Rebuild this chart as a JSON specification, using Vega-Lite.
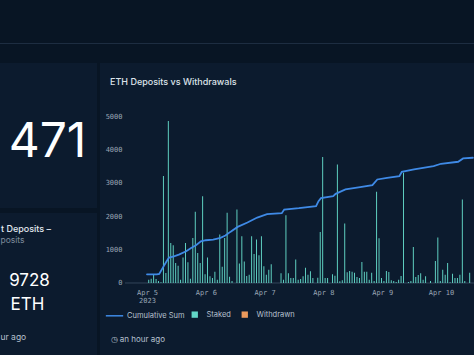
{
  "$schema": "https://vega.github.io/schema/vega-lite/v6.json",
  "background": "#081524",
  "padding": {"left": 0, "top": 43, "right": 0, "bottom": 0},
  "spacing": 18,
  "config": {"view": {"stroke": null}, "font": "Inter"},
  "vconcat": [
    {
      "width": 474, "height": 1,
      "view": {"fill": "#1d2d41"},
      "data": {"values": [{"s": ""}]},
      "mark": {"type": "text", "fontSize": 1, "baseline": "top"},
      "encoding": {"text": {"field": "s"}}
    },
    {
      "hconcat": [
        {
          "vconcat": [
            {
              "width": 97, "height": 145,
              "view": {"fill": "#0c1b2e"},
              "data": {"values": [{"s": "471"}]},
              "mark": {"type": "text", "align": "center", "baseline": "middle", "dx": -1, "dy": 7.5, "fontSize": 48, "font": "Inter", "fontWeight": 400, "color": "#ffffff"},
              "encoding": {"text": {"field": "s"}}
            },
            {
              "width": 97, "height": 143,
              "view": {"fill": "#0c1b2e"},
              "layer": [
                {
                  "data": {"values": [{"s": "t Deposits –"}]},
                  "mark": {"type": "text", "align": "left", "baseline": "middle", "dx": -47.5, "dy": -55.5, "fontSize": 9, "fontWeight": 500, "font": "Inter", "color": "#e2e8ef"},
                  "encoding": {"text": {"field": "s"}}
                },
                {
                  "data": {"values": [{"s": "posits"}]},
                  "mark": {"type": "text", "align": "left", "baseline": "middle", "dx": -48, "dy": -45, "fontSize": 8.5, "font": "Inter", "color": "#7f8c9c"},
                  "encoding": {"text": {"field": "s"}}
                },
                {
                  "data": {"values": [{"s": "9728"}]},
                  "mark": {"type": "text", "align": "center", "baseline": "middle", "dx": -19, "dy": -4, "fontSize": 17, "font": "Inter", "color": "#ffffff"},
                  "encoding": {"text": {"field": "s"}}
                },
                {
                  "data": {"values": [{"s": "ETH"}]},
                  "mark": {"type": "text", "align": "center", "baseline": "middle", "dx": -21, "dy": 20.5, "fontSize": 17, "font": "Inter", "color": "#ffffff"},
                  "encoding": {"text": {"field": "s"}}
                },
                {
                  "data": {"values": [{"s": "ur ago"}]},
                  "mark": {"type": "text", "align": "left", "baseline": "middle", "dx": -48, "dy": 52, "fontSize": 8.5, "font": "Inter", "color": "#b7c1cf"},
                  "encoding": {"text": {"field": "s"}}
                }
              ]
            }
          ],
          "spacing": 5
        },
        {
          "width": 374, "height": 293,
          "view": {"fill": "#0c1b2e"},
          "title": {"text": "ETH Deposits vs Withdrawals", "anchor": "start", "frame": "group", "dx": 10, "offset": -24, "font": "Inter", "fontSize": 9, "fontWeight": 500, "color": "#dde3ea"},
          "layer": [
            {
              "data": {"values": [{}]},
              "mark": {"type": "rule", "color": "#33445a", "strokeWidth": 1},
              "encoding": {
                "x": {"datum": {"year": 2023, "month": 4, "date": 4, "hours": 15}, "type": "temporal"},
                "x2": {"datum": {"year": 2023, "month": 4, "date": 10, "hours": 13, "minutes": 28}},
                "y": {"datum": 0, "type": "quantitative"}
              }
            },
            {
              "data": {"values": [
                {"t":"2023-04-05T00:00","eth":100},{"t":"2023-04-05T01:00","eth":130},{"t":"2023-04-05T02:00","eth":270},{"t":"2023-04-05T03:00","eth":120},
                {"t":"2023-04-05T04:00","eth":60},{"t":"2023-04-05T05:00","eth":20},{"t":"2023-04-05T06:00","eth":3200},{"t":"2023-04-05T07:00","eth":300},
                {"t":"2023-04-05T08:00","eth":4850},{"t":"2023-04-05T09:00","eth":1200},{"t":"2023-04-05T10:00","eth":1130},{"t":"2023-04-05T11:00","eth":600},
                {"t":"2023-04-05T12:00","eth":520},{"t":"2023-04-05T13:00","eth":100},{"t":"2023-04-05T14:00","eth":760},{"t":"2023-04-05T15:00","eth":1200},
                {"t":"2023-04-05T16:00","eth":620},{"t":"2023-04-05T17:00","eth":130},{"t":"2023-04-05T18:00","eth":1350},{"t":"2023-04-05T19:00","eth":2130},
                {"t":"2023-04-05T20:00","eth":900},{"t":"2023-04-05T21:00","eth":600},{"t":"2023-04-05T22:00","eth":2600},{"t":"2023-04-05T23:00","eth":260},
                {"t":"2023-04-06T00:00","eth":760},{"t":"2023-04-06T01:00","eth":200},{"t":"2023-04-06T02:00","eth":150},{"t":"2023-04-06T03:00","eth":340},
                {"t":"2023-04-06T04:00","eth":100},{"t":"2023-04-06T05:00","eth":1450},{"t":"2023-04-06T06:00","eth":490},{"t":"2023-04-06T07:00","eth":1350},
                {"t":"2023-04-06T08:00","eth":2100},{"t":"2023-04-06T09:00","eth":190},{"t":"2023-04-06T10:00","eth":60},{"t":"2023-04-06T11:00","eth":0},
                {"t":"2023-04-06T12:00","eth":2200},{"t":"2023-04-06T13:00","eth":580},{"t":"2023-04-06T14:00","eth":1400},{"t":"2023-04-06T15:00","eth":640},
                {"t":"2023-04-06T16:00","eth":210},{"t":"2023-04-06T17:00","eth":250},{"t":"2023-04-06T18:00","eth":1400},{"t":"2023-04-06T19:00","eth":870},
                {"t":"2023-04-06T20:00","eth":1300},{"t":"2023-04-06T21:00","eth":830},{"t":"2023-04-06T22:00","eth":1400},{"t":"2023-04-06T23:00","eth":500},
                {"t":"2023-04-07T00:00","eth":250},{"t":"2023-04-07T01:00","eth":400},{"t":"2023-04-07T02:00","eth":560},{"t":"2023-04-07T03:00","eth":0},
                {"t":"2023-04-07T04:00","eth":0},{"t":"2023-04-07T05:00","eth":0},{"t":"2023-04-07T06:00","eth":290},{"t":"2023-04-07T07:00","eth":100},
                {"t":"2023-04-07T08:00","eth":2030},{"t":"2023-04-07T09:00","eth":290},{"t":"2023-04-07T10:00","eth":150},{"t":"2023-04-07T11:00","eth":150},
                {"t":"2023-04-07T12:00","eth":700},{"t":"2023-04-07T13:00","eth":100},{"t":"2023-04-07T14:00","eth":120},{"t":"2023-04-07T15:00","eth":200},
                {"t":"2023-04-07T16:00","eth":460},{"t":"2023-04-07T17:00","eth":250},{"t":"2023-04-07T18:00","eth":350},{"t":"2023-04-07T19:00","eth":150},
                {"t":"2023-04-07T20:00","eth":0},{"t":"2023-04-07T21:00","eth":160},{"t":"2023-04-07T22:00","eth":1530},{"t":"2023-04-07T23:00","eth":3770},
                {"t":"2023-04-08T00:00","eth":150},{"t":"2023-04-08T01:00","eth":150},{"t":"2023-04-08T02:00","eth":0},{"t":"2023-04-08T03:00","eth":260},
                {"t":"2023-04-08T04:00","eth":220},{"t":"2023-04-08T05:00","eth":3550},{"t":"2023-04-08T06:00","eth":50},{"t":"2023-04-08T07:00","eth":80},
                {"t":"2023-04-08T08:00","eth":1780},{"t":"2023-04-08T09:00","eth":320},{"t":"2023-04-08T10:00","eth":360},{"t":"2023-04-08T11:00","eth":340},
                {"t":"2023-04-08T12:00","eth":310},{"t":"2023-04-08T13:00","eth":180},{"t":"2023-04-08T14:00","eth":150},{"t":"2023-04-08T15:00","eth":630},
                {"t":"2023-04-08T16:00","eth":340},{"t":"2023-04-08T17:00","eth":340},{"t":"2023-04-08T18:00","eth":100},{"t":"2023-04-08T19:00","eth":310},
                {"t":"2023-04-08T20:00","eth":60},{"t":"2023-04-08T21:00","eth":2730},{"t":"2023-04-08T22:00","eth":1340},{"t":"2023-04-08T23:00","eth":150},
                {"t":"2023-04-09T00:00","eth":60},{"t":"2023-04-09T01:00","eth":360},{"t":"2023-04-09T02:00","eth":330},{"t":"2023-04-09T03:00","eth":80},
                {"t":"2023-04-09T04:00","eth":60},{"t":"2023-04-09T05:00","eth":30},{"t":"2023-04-09T06:00","eth":100},{"t":"2023-04-09T07:00","eth":210},
                {"t":"2023-04-09T08:00","eth":3300},{"t":"2023-04-09T09:00","eth":0},{"t":"2023-04-09T10:00","eth":30},{"t":"2023-04-09T11:00","eth":60},
                {"t":"2023-04-09T12:00","eth":1080},{"t":"2023-04-09T13:00","eth":180},{"t":"2023-04-09T14:00","eth":240},{"t":"2023-04-09T15:00","eth":290},
                {"t":"2023-04-09T16:00","eth":100},{"t":"2023-04-09T17:00","eth":200},{"t":"2023-04-09T18:00","eth":0},{"t":"2023-04-09T19:00","eth":60},
                {"t":"2023-04-09T20:00","eth":0},{"t":"2023-04-09T21:00","eth":660},{"t":"2023-04-09T22:00","eth":1360},{"t":"2023-04-09T23:00","eth":60},
                {"t":"2023-04-10T00:00","eth":400},{"t":"2023-04-10T01:00","eth":250},{"t":"2023-04-10T02:00","eth":600},{"t":"2023-04-10T03:00","eth":20},
                {"t":"2023-04-10T04:00","eth":280},{"t":"2023-04-10T05:00","eth":150},{"t":"2023-04-10T06:00","eth":150},{"t":"2023-04-10T07:00","eth":250},
                {"t":"2023-04-10T08:00","eth":2500},{"t":"2023-04-10T09:00","eth":60},{"t":"2023-04-10T10:00","eth":0},{"t":"2023-04-10T11:00","eth":310},
                {"t":"2023-04-10T12:00","eth":0}
              ]},
              "mark": {"type": "bar", "width": {"band": 0.8}},
              "encoding": {
                "x": {
                  "field": "t", "type": "temporal", "timeUnit": "yearmonthdatehours",
                  "scale": {"domain": [{"year": 2023, "month": 4, "date": 4, "hours": 4, "minutes": 49}, {"year": 2023, "month": 4, "date": 10, "hours": 13, "minutes": 28}]},
                  "axis": {
                    "orient": "bottom", "offset": -73, "tickCount": {"interval": "day", "step": 1},
                    "ticks": false, "domain": false, "grid": false, "labelOverlap": false, "labelFlush": false,
                    "labelExpr": "date(datum.value) == 5 ? [timeFormat(datum.value, '%b %-d'), '2023'] : timeFormat(datum.value, '%b %-d')",
                    "labelFont": "DejaVu Sans Mono", "labelFontSize": 7, "labelColor": "#9aa6b5", "labelPadding": 5, "labelLineHeight": 8.5,
                    "title": "◷ an hour ago", "titleX": 10, "titleY": 56, "titleAlign": "left", "titleAnchor": "start", "titleBaseline": "middle",
                    "titleFont": "Inter", "titleFontSize": 8, "titleFontWeight": "normal", "titleColor": "#b7c1cf"
                  }
                },
                "y": {
                  "field": "eth", "type": "quantitative",
                  "scale": {"domain": [-2186, 6587], "nice": false, "zero": false},
                  "axis": {
                    "orient": "left", "offset": -25, "values": [0, 1000, 2000, 3000, 4000, 5000], "format": "d",
                    "ticks": false, "domain": false, "grid": false, "title": null,
                    "labelFont": "DejaVu Sans Mono", "labelFontSize": 7, "labelColor": "#9aa6b5", "labelPadding": 3
                  }
                },
                "fill": {
                  "datum": "Staked", "type": "nominal",
                  "scale": {"domain": ["Staked", "Withdrawn"], "range": ["#62d6c6", "#ec9a5c"]},
                  "legend": {
                    "orient": "none", "legendX": 191, "legendY": 267.5, "direction": "horizontal", "title": null, "padding": 0,
                    "symbolType": "square", "symbolSize": 40, "symbolStrokeWidth": 0, "labelOffset": 8, "columnPadding": 10,
                    "labelFont": "Inter", "labelFontSize": 7.5, "labelColor": "#b7c1cf"
                  }
                }
              }
            },
            {
              "data": {"values": [
                {"t":"2023-04-05T00:00","cum":260},{"t":"2023-04-05T04:00","cum":260},{"t":"2023-04-05T05:00","cum":270},{"t":"2023-04-05T06:00","cum":400},
                {"t":"2023-04-05T08:00","cum":650},{"t":"2023-04-05T09:00","cum":760},{"t":"2023-04-05T11:00","cum":800},{"t":"2023-04-05T13:00","cum":850},
                {"t":"2023-04-05T16:00","cum":950},{"t":"2023-04-05T18:00","cum":1050},{"t":"2023-04-05T20:00","cum":1130},{"t":"2023-04-05T22:00","cum":1250},
                {"t":"2023-04-06T00:00","cum":1280},{"t":"2023-04-06T03:00","cum":1300},{"t":"2023-04-06T06:00","cum":1350},{"t":"2023-04-06T08:00","cum":1420},
                {"t":"2023-04-06T10:00","cum":1530},{"t":"2023-04-06T13:00","cum":1680},{"t":"2023-04-06T17:00","cum":1810},{"t":"2023-04-06T21:00","cum":1960},
                {"t":"2023-04-07T01:00","cum":2060},{"t":"2023-04-07T07:00","cum":2090},{"t":"2023-04-07T08:00","cum":2200},{"t":"2023-04-07T14:00","cum":2240},
                {"t":"2023-04-07T21:00","cum":2300},{"t":"2023-04-07T22:00","cum":2450},{"t":"2023-04-07T23:00","cum":2540},{"t":"2023-04-08T04:00","cum":2600},
                {"t":"2023-04-08T05:00","cum":2670},{"t":"2023-04-08T09:00","cum":2800},{"t":"2023-04-08T15:00","cum":2870},{"t":"2023-04-08T20:00","cum":2930},
                {"t":"2023-04-08T22:00","cum":3100},{"t":"2023-04-09T02:00","cum":3150},{"t":"2023-04-09T07:00","cum":3200},{"t":"2023-04-09T08:00","cum":3330},
                {"t":"2023-04-09T13:00","cum":3400},{"t":"2023-04-09T21:00","cum":3500},{"t":"2023-04-10T00:00","cum":3570},{"t":"2023-04-10T07:00","cum":3630},
                {"t":"2023-04-10T09:00","cum":3730},{"t":"2023-04-10T13:00","cum":3750}
              ]},
              "mark": {"type": "line", "strokeWidth": 1.8, "strokeCap": "round"},
              "encoding": {
                "x": {"field": "t", "type": "temporal"},
                "y": {"field": "cum", "type": "quantitative"},
                "stroke": {
                  "datum": "Cumulative Sum", "type": "nominal",
                  "scale": {"range": ["#3f8ae6"]},
                  "legend": {
                    "orient": "none", "legendX": 105, "legendY": 263.3, "title": null, "padding": 0,
                    "symbolType": "stroke", "symbolSize": 300, "symbolStrokeWidth": 1.5, "labelOffset": 3,
                    "labelFont": "Inter", "labelFontSize": 7.5, "labelColor": "#b7c1cf"
                  }
                }
              }
            }
          ]
        }
      ],
      "spacing": 3
    }
  ]
}
